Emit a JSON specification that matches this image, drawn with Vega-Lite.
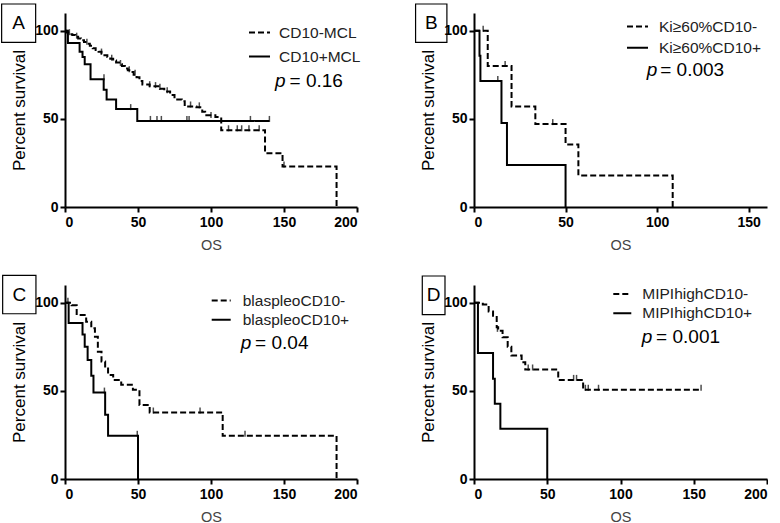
{
  "$schema": "https://vega.github.io/schema/vega-lite/v6.json",
  "padding": {"left": 1, "top": 3, "right": 0, "bottom": 0},
  "background": "white",
  "datasets": {
    "curves": [
      {"panel": "A", "series": "CD10-MCL", "t": 0, "s": 100},
      {"panel": "A", "series": "CD10-MCL", "t": 1, "s": 99},
      {"panel": "A", "series": "CD10-MCL", "t": 3, "s": 98},
      {"panel": "A", "series": "CD10-MCL", "t": 5, "s": 97.5},
      {"panel": "A", "series": "CD10-MCL", "t": 7, "s": 96.5},
      {"panel": "A", "series": "CD10-MCL", "t": 9, "s": 95.5},
      {"panel": "A", "series": "CD10-MCL", "t": 11, "s": 94.5},
      {"panel": "A", "series": "CD10-MCL", "t": 13, "s": 93.5},
      {"panel": "A", "series": "CD10-MCL", "t": 15, "s": 92.5},
      {"panel": "A", "series": "CD10-MCL", "t": 17, "s": 91.5},
      {"panel": "A", "series": "CD10-MCL", "t": 19, "s": 90},
      {"panel": "A", "series": "CD10-MCL", "t": 21, "s": 89},
      {"panel": "A", "series": "CD10-MCL", "t": 23, "s": 88},
      {"panel": "A", "series": "CD10-MCL", "t": 25, "s": 87},
      {"panel": "A", "series": "CD10-MCL", "t": 27, "s": 86},
      {"panel": "A", "series": "CD10-MCL", "t": 29, "s": 85},
      {"panel": "A", "series": "CD10-MCL", "t": 31, "s": 84},
      {"panel": "A", "series": "CD10-MCL", "t": 33, "s": 83},
      {"panel": "A", "series": "CD10-MCL", "t": 35, "s": 82},
      {"panel": "A", "series": "CD10-MCL", "t": 37, "s": 81},
      {"panel": "A", "series": "CD10-MCL", "t": 39, "s": 80},
      {"panel": "A", "series": "CD10-MCL", "t": 41, "s": 78.5},
      {"panel": "A", "series": "CD10-MCL", "t": 43, "s": 77.5},
      {"panel": "A", "series": "CD10-MCL", "t": 45, "s": 76.5},
      {"panel": "A", "series": "CD10-MCL", "t": 47, "s": 75},
      {"panel": "A", "series": "CD10-MCL", "t": 49, "s": 73.5},
      {"panel": "A", "series": "CD10-MCL", "t": 51, "s": 71.5},
      {"panel": "A", "series": "CD10-MCL", "t": 53, "s": 69.5},
      {"panel": "A", "series": "CD10-MCL", "t": 58, "s": 68.5},
      {"panel": "A", "series": "CD10-MCL", "t": 65, "s": 67},
      {"panel": "A", "series": "CD10-MCL", "t": 68, "s": 65.5},
      {"panel": "A", "series": "CD10-MCL", "t": 72, "s": 63.5},
      {"panel": "A", "series": "CD10-MCL", "t": 75, "s": 61},
      {"panel": "A", "series": "CD10-MCL", "t": 80, "s": 60},
      {"panel": "A", "series": "CD10-MCL", "t": 82, "s": 57},
      {"panel": "A", "series": "CD10-MCL", "t": 90, "s": 56.5},
      {"panel": "A", "series": "CD10-MCL", "t": 94, "s": 54},
      {"panel": "A", "series": "CD10-MCL", "t": 96, "s": 52},
      {"panel": "A", "series": "CD10-MCL", "t": 103, "s": 51},
      {"panel": "A", "series": "CD10-MCL", "t": 107, "s": 43.5},
      {"panel": "A", "series": "CD10-MCL", "t": 137, "s": 30.5},
      {"panel": "A", "series": "CD10-MCL", "t": 149, "s": 23},
      {"panel": "A", "series": "CD10-MCL", "t": 186, "s": 0},
      {"panel": "A", "series": "CD10+MCL", "t": 0, "s": 100},
      {"panel": "A", "series": "CD10+MCL", "t": 2, "s": 93},
      {"panel": "A", "series": "CD10+MCL", "t": 10, "s": 88},
      {"panel": "A", "series": "CD10+MCL", "t": 12, "s": 85},
      {"panel": "A", "series": "CD10+MCL", "t": 13.5, "s": 81},
      {"panel": "A", "series": "CD10+MCL", "t": 17.5, "s": 72.5},
      {"panel": "A", "series": "CD10+MCL", "t": 26.5, "s": 66.5},
      {"panel": "A", "series": "CD10+MCL", "t": 28.5, "s": 61},
      {"panel": "A", "series": "CD10+MCL", "t": 35, "s": 55.5},
      {"panel": "A", "series": "CD10+MCL", "t": 49.5, "s": 48.8},
      {"panel": "A", "series": "CD10+MCL", "t": 140, "s": 48.8},
      {"panel": "B", "series": "Ki≥60%CD10-", "t": 0, "s": 100},
      {"panel": "B", "series": "Ki≥60%CD10-", "t": 7.5, "s": 80},
      {"panel": "B", "series": "Ki≥60%CD10-", "t": 20.5, "s": 57},
      {"panel": "B", "series": "Ki≥60%CD10-", "t": 33.5, "s": 47},
      {"panel": "B", "series": "Ki≥60%CD10-", "t": 50, "s": 35.5},
      {"panel": "B", "series": "Ki≥60%CD10-", "t": 57, "s": 17.9},
      {"panel": "B", "series": "Ki≥60%CD10-", "t": 108.5, "s": 0},
      {"panel": "B", "series": "Ki≥60%CD10+", "t": 0, "s": 100},
      {"panel": "B", "series": "Ki≥60%CD10+", "t": 3, "s": 85.7},
      {"panel": "B", "series": "Ki≥60%CD10+", "t": 3.5, "s": 71.4},
      {"panel": "B", "series": "Ki≥60%CD10+", "t": 15, "s": 47.6},
      {"panel": "B", "series": "Ki≥60%CD10+", "t": 18, "s": 23.8},
      {"panel": "B", "series": "Ki≥60%CD10+", "t": 50, "s": 0},
      {"panel": "C", "series": "blaspleoCD10-", "t": 0, "s": 100},
      {"panel": "C", "series": "blaspleoCD10-", "t": 4.5, "s": 98.5},
      {"panel": "C", "series": "blaspleoCD10-", "t": 8, "s": 93},
      {"panel": "C", "series": "blaspleoCD10-", "t": 14.5, "s": 89.2},
      {"panel": "C", "series": "blaspleoCD10-", "t": 18, "s": 85.5},
      {"panel": "C", "series": "blaspleoCD10-", "t": 20.5, "s": 80.7},
      {"panel": "C", "series": "blaspleoCD10-", "t": 22.5, "s": 72.2},
      {"panel": "C", "series": "blaspleoCD10-", "t": 25, "s": 66.6},
      {"panel": "C", "series": "blaspleoCD10-", "t": 27.5, "s": 63.8},
      {"panel": "C", "series": "blaspleoCD10-", "t": 29.5, "s": 59},
      {"panel": "C", "series": "blaspleoCD10-", "t": 33, "s": 56.2},
      {"panel": "C", "series": "blaspleoCD10-", "t": 38.5, "s": 53.4},
      {"panel": "C", "series": "blaspleoCD10-", "t": 46.5, "s": 50.6},
      {"panel": "C", "series": "blaspleoCD10-", "t": 51, "s": 42},
      {"panel": "C", "series": "blaspleoCD10-", "t": 58, "s": 37.7},
      {"panel": "C", "series": "blaspleoCD10-", "t": 108, "s": 24.5},
      {"panel": "C", "series": "blaspleoCD10-", "t": 186, "s": 0},
      {"panel": "C", "series": "blaspleoCD10+", "t": 0, "s": 100},
      {"panel": "C", "series": "blaspleoCD10+", "t": 2.5, "s": 88.5},
      {"panel": "C", "series": "blaspleoCD10+", "t": 12, "s": 82},
      {"panel": "C", "series": "blaspleoCD10+", "t": 13.5, "s": 75},
      {"panel": "C", "series": "blaspleoCD10+", "t": 15.5, "s": 67.5},
      {"panel": "C", "series": "blaspleoCD10+", "t": 18, "s": 58.5},
      {"panel": "C", "series": "blaspleoCD10+", "t": 19.5, "s": 49},
      {"panel": "C", "series": "blaspleoCD10+", "t": 27.5, "s": 36.5},
      {"panel": "C", "series": "blaspleoCD10+", "t": 29.5, "s": 24.5},
      {"panel": "C", "series": "blaspleoCD10+", "t": 50, "s": 0},
      {"panel": "D", "series": "MIPIhighCD10-", "t": 0, "s": 100},
      {"panel": "D", "series": "MIPIhighCD10-", "t": 6, "s": 99},
      {"panel": "D", "series": "MIPIhighCD10-", "t": 10, "s": 95},
      {"panel": "D", "series": "MIPIhighCD10-", "t": 13, "s": 92.6},
      {"panel": "D", "series": "MIPIhighCD10-", "t": 15.5, "s": 86},
      {"panel": "D", "series": "MIPIhighCD10-", "t": 16.5, "s": 84},
      {"panel": "D", "series": "MIPIhighCD10-", "t": 19.5, "s": 80.4},
      {"panel": "D", "series": "MIPIhighCD10-", "t": 23, "s": 75},
      {"panel": "D", "series": "MIPIhighCD10-", "t": 25.5, "s": 70},
      {"panel": "D", "series": "MIPIhighCD10-", "t": 32.5, "s": 66.2},
      {"panel": "D", "series": "MIPIhighCD10-", "t": 35, "s": 62.1},
      {"panel": "D", "series": "MIPIhighCD10-", "t": 57.5, "s": 56.2},
      {"panel": "D", "series": "MIPIhighCD10-", "t": 74.5, "s": 50.6},
      {"panel": "D", "series": "MIPIhighCD10-", "t": 155, "s": 50.6},
      {"panel": "D", "series": "MIPIhighCD10+", "t": 0, "s": 100},
      {"panel": "D", "series": "MIPIhighCD10+", "t": 2.7, "s": 71.5},
      {"panel": "D", "series": "MIPIhighCD10+", "t": 13, "s": 56.8},
      {"panel": "D", "series": "MIPIhighCD10+", "t": 14.2, "s": 42.7},
      {"panel": "D", "series": "MIPIhighCD10+", "t": 18, "s": 28.5},
      {"panel": "D", "series": "MIPIhighCD10+", "t": 50, "s": 0}
    ],
    "cens": [
      {"panel": "A", "t": 3, "s": 98}, {"panel": "A", "t": 8, "s": 96}, {"panel": "A", "t": 15, "s": 92.5},
      {"panel": "A", "t": 25, "s": 87}, {"panel": "A", "t": 32, "s": 83.5}, {"panel": "A", "t": 38, "s": 80.5},
      {"panel": "A", "t": 44, "s": 77}, {"panel": "A", "t": 48, "s": 75}, {"panel": "A", "t": 58, "s": 68.5},
      {"panel": "A", "t": 62, "s": 68}, {"panel": "A", "t": 65, "s": 67}, {"panel": "A", "t": 70, "s": 65},
      {"panel": "A", "t": 86, "s": 57}, {"panel": "A", "t": 92, "s": 56.5}, {"panel": "A", "t": 100, "s": 51},
      {"panel": "A", "t": 112, "s": 43.5}, {"panel": "A", "t": 118, "s": 43.5}, {"panel": "A", "t": 121, "s": 43.5},
      {"panel": "A", "t": 126, "s": 43.5}, {"panel": "A", "t": 133, "s": 43.5}, {"panel": "A", "t": 150, "s": 23},
      {"panel": "A", "t": 26.7, "s": 72.5}, {"panel": "A", "t": 45, "s": 55.5}, {"panel": "A", "t": 58.5, "s": 48.8},
      {"panel": "A", "t": 63, "s": 48.8}, {"panel": "A", "t": 66, "s": 48.8}, {"panel": "A", "t": 83.5, "s": 48.8},
      {"panel": "A", "t": 85, "s": 48.8}, {"panel": "A", "t": 127, "s": 48.8}, {"panel": "A", "t": 140, "s": 48.8},
      {"panel": "B", "t": 5, "s": 100}, {"panel": "B", "t": 17, "s": 80}, {"panel": "B", "t": 43, "s": 47},
      {"panel": "B", "t": 13, "s": 71.4},
      {"panel": "C", "t": 2, "s": 100}, {"panel": "C", "t": 60.5, "s": 37.7}, {"panel": "C", "t": 92.5, "s": 37.7},
      {"panel": "C", "t": 123.3, "s": 24.5}, {"panel": "C", "t": 27, "s": 49}, {"panel": "C", "t": 49.5, "s": 24.5},
      {"panel": "D", "t": 16, "s": 84}, {"panel": "D", "t": 37, "s": 62.1}, {"panel": "D", "t": 40, "s": 62.1},
      {"panel": "D", "t": 68, "s": 56.2}, {"panel": "D", "t": 70, "s": 56.2}, {"panel": "D", "t": 76, "s": 50.6},
      {"panel": "D", "t": 78, "s": 50.6}, {"panel": "D", "t": 85, "s": 50.6}, {"panel": "D", "t": 155, "s": 50.6}
    ]
  },
  "columns": 2,
  "bounds": "flush",
  "spacing": {"row": 78, "column": 117},
  "resolve": {"scale": {"strokeDash": "independent"}, "legend": {"strokeDash": "independent"}},
  "concat": [
    {
      "width": 292, "height": 194,
      "layer": [
        {
          "data": {"name": "curves"}, "transform": [{"filter": "datum.panel === 'A'"}],
          "mark": {"type": "line", "interpolate": "step-after", "color": "black", "strokeWidth": 2},
          "encoding": {
            "x": {"field": "t", "type": "quantitative", "title": "OS", "scale": {"domain": [0, 200]}, "axis": {"values": [0, 50, 100, 150, 200]}},
            "y": {"field": "s", "type": "quantitative", "title": "Percent survival", "scale": {"domain": [0, 110]}, "axis": {"values": [0, 50, 100]}},
            "strokeDash": {"field": "series", "type": "nominal", "scale": {"domain": ["CD10-MCL", "CD10+MCL"], "range": [[6, 3], [1, 0]]},
              "legend": {"title": null, "orient": "none", "legendX": 183, "legendY": 8, "rowPadding": 4, "labelOffset": 8}}
          }
        },
        {
          "data": {"name": "cens"}, "transform": [{"filter": "datum.panel === 'A'"}],
          "mark": {"type": "tick", "orient": "vertical", "color": "black", "size": 6, "thickness": 1.5, "yOffset": -2},
          "encoding": {"x": {"field": "t", "type": "quantitative", "title": "OS"}, "y": {"field": "s", "type": "quantitative", "title": "Percent survival"}}
        },
        {
          "data": {"values": [{}]},
          "mark": {"type": "rect", "fillOpacity": 0, "stroke": "black", "strokeWidth": 1.2},
          "encoding": {"x": {"datum": -43.4, "type": "quantitative"}, "x2": {"datum": -20.1}, "y": {"datum": 115.1, "type": "quantitative"}, "y2": {"datum": 93.3}}
        },
        {
          "data": {"values": [{}]},
          "mark": {"type": "text", "fontSize": 19, "font": "Liberation Sans", "baseline": "middle", "align": "center", "color": "black"},
          "encoding": {"x": {"datum": -31.75, "type": "quantitative"}, "y": {"datum": 104.2, "type": "quantitative"}, "text": {"value": "A"}}
        },
        {
          "data": {"values": [{}]},
          "mark": {"type": "text", "fontSize": 19, "font": "Liberation Sans", "fontStyle": "italic", "baseline": "alphabetic", "align": "left", "color": "black"},
          "encoding": {"x": {"datum": 143.8, "type": "quantitative"}, "y": {"datum": 67.8, "type": "quantitative"}, "text": {"value": "p"}}
        },
        {
          "data": {"values": [{}]},
          "mark": {"type": "text", "fontSize": 19, "font": "Liberation Sans", "baseline": "alphabetic", "align": "left", "color": "black"},
          "encoding": {"x": {"datum": 153.8, "type": "quantitative"}, "y": {"datum": 67.8, "type": "quantitative"}, "text": {"value": "= 0.16"}}
        }
      ]
    },
    {
      "width": 293, "height": 194,
      "layer": [
        {
          "data": {"name": "curves"}, "transform": [{"filter": "datum.panel === 'B'"}],
          "mark": {"type": "line", "interpolate": "step-after", "color": "black", "strokeWidth": 2},
          "encoding": {
            "x": {"field": "t", "type": "quantitative", "title": "OS", "scale": {"domain": [0, 150]}, "axis": {"values": [0, 50, 100, 150]}},
            "y": {"field": "s", "type": "quantitative", "title": "Percent survival", "scale": {"domain": [0, 110]}, "axis": {"values": [0, 50, 100]}},
            "strokeDash": {"field": "series", "type": "nominal", "scale": {"domain": ["Ki≥60%CD10-", "Ki≥60%CD10+"], "range": [[6, 3], [1, 0]]},
              "legend": {"title": null, "orient": "none", "legendX": 152, "legendY": 2, "rowPadding": 1.3, "labelOffset": 10}}
          }
        },
        {
          "data": {"name": "cens"}, "transform": [{"filter": "datum.panel === 'B'"}],
          "mark": {"type": "tick", "orient": "vertical", "color": "black", "size": 6, "thickness": 1.5, "yOffset": -2},
          "encoding": {"x": {"field": "t", "type": "quantitative", "title": "OS"}, "y": {"field": "s", "type": "quantitative", "title": "Percent survival"}}
        },
        {
          "data": {"values": [{}]},
          "mark": {"type": "rect", "fillOpacity": 0, "stroke": "black", "strokeWidth": 1.2},
          "encoding": {"x": {"datum": -31.9, "type": "quantitative"}, "x2": {"datum": -14.8}, "y": {"datum": 115.1, "type": "quantitative"}, "y2": {"datum": 93.3}}
        },
        {
          "data": {"values": [{}]},
          "mark": {"type": "text", "fontSize": 19, "font": "Liberation Sans", "baseline": "middle", "align": "center", "color": "black"},
          "encoding": {"x": {"datum": -23.35, "type": "quantitative"}, "y": {"datum": 104.2, "type": "quantitative"}, "text": {"value": "B"}}
        },
        {
          "data": {"values": [{}]},
          "mark": {"type": "text", "fontSize": 19, "font": "Liberation Sans", "fontStyle": "italic", "baseline": "alphabetic", "align": "left", "color": "black"},
          "encoding": {"x": {"datum": 94.4, "type": "quantitative"}, "y": {"datum": 74.5, "type": "quantitative"}, "text": {"value": "p"}}
        },
        {
          "data": {"values": [{}]},
          "mark": {"type": "text", "fontSize": 19, "font": "Liberation Sans", "baseline": "alphabetic", "align": "left", "color": "black"},
          "encoding": {"x": {"datum": 101.7, "type": "quantitative"}, "y": {"datum": 74.5, "type": "quantitative"}, "text": {"value": "= 0.003"}}
        }
      ]
    },
    {
      "width": 292, "height": 194,
      "layer": [
        {
          "data": {"name": "curves"}, "transform": [{"filter": "datum.panel === 'C'"}],
          "mark": {"type": "line", "interpolate": "step-after", "color": "black", "strokeWidth": 2},
          "encoding": {
            "x": {"field": "t", "type": "quantitative", "title": "OS", "scale": {"domain": [0, 200]}, "axis": {"values": [0, 50, 100, 150, 200]}},
            "y": {"field": "s", "type": "quantitative", "title": "Percent survival", "scale": {"domain": [0, 110]}, "axis": {"values": [0, 50, 100]}},
            "strokeDash": {"field": "series", "type": "nominal", "scale": {"domain": ["blaspleoCD10-", "blaspleoCD10+"], "range": [[6, 3], [1, 0]]},
              "legend": {"title": null, "orient": "none", "legendX": 145.7, "legendY": 5, "rowPadding": 0.3, "labelOffset": 11, "symbolSize": 361}}
          }
        },
        {
          "data": {"name": "cens"}, "transform": [{"filter": "datum.panel === 'C'"}],
          "mark": {"type": "tick", "orient": "vertical", "color": "black", "size": 6, "thickness": 1.5, "yOffset": -2},
          "encoding": {"x": {"field": "t", "type": "quantitative", "title": "OS"}, "y": {"field": "s", "type": "quantitative", "title": "Percent survival"}}
        },
        {
          "data": {"values": [{}]},
          "mark": {"type": "rect", "fillOpacity": 0, "stroke": "black", "strokeWidth": 1.2},
          "encoding": {"x": {"datum": -42.7, "type": "quantitative"}, "x2": {"datum": -19.9}, "y": {"datum": 115.5, "type": "quantitative"}, "y2": {"datum": 93.7}}
        },
        {
          "data": {"values": [{}]},
          "mark": {"type": "text", "fontSize": 19, "font": "Liberation Sans", "baseline": "middle", "align": "center", "color": "black"},
          "encoding": {"x": {"datum": -31.3, "type": "quantitative"}, "y": {"datum": 104.6, "type": "quantitative"}, "text": {"value": "C"}}
        },
        {
          "data": {"values": [{}]},
          "mark": {"type": "text", "fontSize": 19, "font": "Liberation Sans", "fontStyle": "italic", "baseline": "alphabetic", "align": "left", "color": "black"},
          "encoding": {"x": {"datum": 120.3, "type": "quantitative"}, "y": {"datum": 73.5, "type": "quantitative"}, "text": {"value": "p"}}
        },
        {
          "data": {"values": [{}]},
          "mark": {"type": "text", "fontSize": 19, "font": "Liberation Sans", "baseline": "alphabetic", "align": "left", "color": "black"},
          "encoding": {"x": {"datum": 130.2, "type": "quantitative"}, "y": {"datum": 73.5, "type": "quantitative"}, "text": {"value": "= 0.04"}}
        }
      ]
    },
    {
      "width": 293, "height": 194,
      "layer": [
        {
          "data": {"name": "curves"}, "transform": [{"filter": "datum.panel === 'D'"}],
          "mark": {"type": "line", "interpolate": "step-after", "color": "black", "strokeWidth": 2},
          "encoding": {
            "x": {"field": "t", "type": "quantitative", "title": "OS", "scale": {"domain": [0, 200]}, "axis": {"values": [0, 50, 100, 150, 200]}},
            "y": {"field": "s", "type": "quantitative", "title": "Percent survival", "scale": {"domain": [0, 110]}, "axis": {"values": [0, 50, 100]}},
            "strokeDash": {"field": "series", "type": "nominal", "scale": {"domain": ["MIPIhighCD10-", "MIPIhighCD10+"], "range": [[6, 3], [1, 0]]},
              "legend": {"title": null, "orient": "none", "legendX": 138.3, "legendY": -1, "rowPadding": 0.3, "labelOffset": 10, "symbolSize": 324}}
          }
        },
        {
          "data": {"name": "cens"}, "transform": [{"filter": "datum.panel === 'D'"}],
          "mark": {"type": "tick", "orient": "vertical", "color": "black", "size": 6, "thickness": 1.5, "yOffset": -2},
          "encoding": {"x": {"field": "t", "type": "quantitative", "title": "OS"}, "y": {"field": "s", "type": "quantitative", "title": "Percent survival"}}
        },
        {
          "data": {"values": [{}]},
          "mark": {"type": "rect", "fillOpacity": 0, "stroke": "black", "strokeWidth": 1.2},
          "encoding": {"x": {"datum": -35.3, "type": "quantitative"}, "x2": {"datum": -19.8}, "y": {"datum": 115.1, "type": "quantitative"}, "y2": {"datum": 93.2}}
        },
        {
          "data": {"values": [{}]},
          "mark": {"type": "text", "fontSize": 19, "font": "Liberation Sans", "baseline": "middle", "align": "center", "color": "black"},
          "encoding": {"x": {"datum": -27.55, "type": "quantitative"}, "y": {"datum": 104.2, "type": "quantitative"}, "text": {"value": "D"}}
        },
        {
          "data": {"values": [{}]},
          "mark": {"type": "text", "fontSize": 19, "font": "Liberation Sans", "fontStyle": "italic", "baseline": "alphabetic", "align": "left", "color": "black"},
          "encoding": {"x": {"datum": 114.5, "type": "quantitative"}, "y": {"datum": 76.9, "type": "quantitative"}, "text": {"value": "p"}}
        },
        {
          "data": {"values": [{}]},
          "mark": {"type": "text", "fontSize": 19, "font": "Liberation Sans", "baseline": "alphabetic", "align": "left", "color": "black"},
          "encoding": {"x": {"datum": 124.3, "type": "quantitative"}, "y": {"datum": 76.9, "type": "quantitative"}, "text": {"value": "= 0.001"}}
        }
      ]
    }
  ],
  "config": {
    "view": {"stroke": null},
    "font": "Liberation Sans",
    "axis": {"domainColor": "black", "domainWidth": 2, "tickColor": "black", "tickWidth": 2, "tickSize": 5, "grid": false,
      "labelFont": "Liberation Sans", "labelFontSize": 14, "labelFontWeight": "bold", "labelColor": "black", "labelPadding": 2,
      "titleFont": "Liberation Sans", "titleFontWeight": "normal"},
    "axisX": {"titleFontSize": 14.5, "titleColor": "#444", "titlePadding": 9, "labelPadding": 3},
    "axisY": {"titleFontSize": 17, "titleColor": "black", "titlePadding": 6},
    "legend": {"padding": 0, "symbolType": "stroke", "symbolSize": 441, "symbolStrokeWidth": 2, "symbolStrokeColor": "black",
      "labelFont": "Liberation Sans", "labelFontSize": 15.5, "labelColor": "#222"}
  }
}
